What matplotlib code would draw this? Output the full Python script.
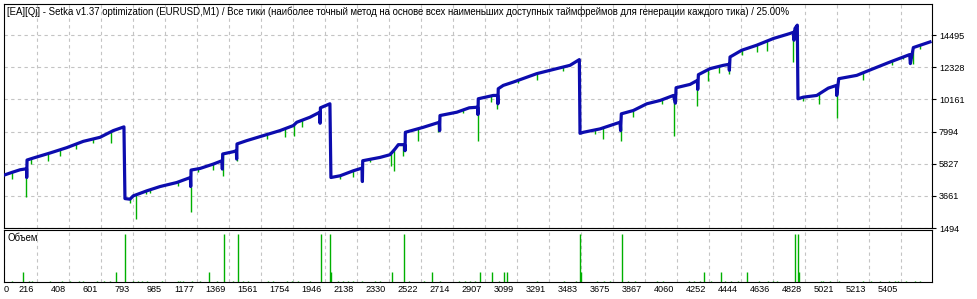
import numpy as np
import matplotlib
matplotlib.use("Agg")
import matplotlib.pyplot as plt
import matplotlib.transforms as mtransforms

plt.rcParams['font.family'] = ['Liberation Sans', 'DejaVu Sans']

title = ("[EA][Qj] - Setka v1.37 optimization (EURUSD,M1) / Все тики (наиболее точный метод "
         "на основе всех наименьших доступных таймфреймов для генерации каждого тика) / 25.00%")

# balance curve (trade number, balance)
bal_x = [20, 66, 116, 155, 156, 158, 196, 296, 396, 496, 596, 676, 740, 746, 776, 796, 877, 957,
         1057, 1139, 1141, 1143, 1197, 1277, 1329, 1331, 1333, 1397, 1415, 1417, 1419, 1477, 1577,
         1677, 1757, 1778, 1857, 1916, 1918, 1920, 1977, 1983, 2038, 2118, 2170, 2172, 2174, 2278,
         2338, 2368, 2388, 2426, 2428, 2430, 2538, 2634, 2636, 2638, 2739, 2814, 2864, 2866, 2868,
         2958, 2984, 2986, 2988, 3018, 3078, 3219, 3339, 3419, 3475, 3479, 3499, 3599, 3719, 3723,
         3727, 3799, 3880, 3960, 4040, 4052, 4056, 4140, 4184, 4186, 4190, 4260, 4340, 4374, 4376,
         4380, 4450, 4540, 4640, 4740, 4762, 4764, 4770, 4784, 4788, 4820, 4901, 4970, 5019, 5021,
         5033, 5141, 5241, 5341, 5459, 5463, 5481, 5581]
bal_y = [5061, 5239, 5421, 5489, 4900, 6078, 6214, 6552, 6911, 7338, 7609, 8062, 8313, 3478, 3437,
         3661, 3999, 4290, 4561, 4900, 4290, 5401, 5509, 5807, 6031, 5469, 6485, 6640, 6708, 6145,
         7162, 7385, 7724, 8062, 8401, 8625, 8963, 9302, 8558, 9600, 9871, 4900, 5015, 5354, 5536,
         4629, 6031, 6254, 6437, 6823, 7114, 7114, 6708, 7948, 8286, 8625, 8062, 9078, 9302, 9600,
         9640, 9146, 10209, 10433, 10433, 9871, 10886, 11110, 11333, 11902, 12241, 12464, 12850,
         7879, 7948, 8177, 8625, 8062, 9193, 9417, 9870, 10094, 10433, 9911, 10954, 11178, 11448,
         10839, 11834, 12241, 12464, 12532, 12126, 13026, 13480, 13819, 14272, 14611, 14700, 14157,
         14950, 15173, 10209, 10317, 10433, 10927, 11110, 10433, 11564, 11787, 12241, 12688, 13189,
         12579, 13663, 14042]

# equity drawdown spikes (trade number, equity low)
spk_x = [66, 152, 180, 286, 356, 452, 556, 662, 776, 812, 871, 897, 1067, 1141, 1187, 1277, 1333,
         1417, 1597, 1707, 1761, 1808, 1913, 2038, 2114, 2168, 2218, 2342, 2362, 2414, 2508, 2628,
         2778, 2868, 2943, 2982, 3108, 3219, 3379, 3569, 3619, 3724, 3799, 3970, 4045, 4184, 4250,
         4316, 4376, 4450, 4540, 4600, 4760, 4820, 4916, 5021, 5177, 5291, 5351, 5417, 5477, 5521]
spk_low = [4792, 3613, 5807, 6031, 6322, 6823, 7229, 7229, 3166, 2123, 3776, 3884, 4338, 2597, 5239,
           5421, 5015, 6031, 7500, 7656, 7724, 8286, 8625, 4832, 4900, 4629, 5916, 5645, 5354, 6370,
           7338, 7948, 9234, 7338, 9979, 9532, 11266, 11448, 12078, 7839, 7473, 7385, 8963, 9870,
           7724, 9708, 11401, 11970, 11902, 13141, 13365, 13412, 12667, 10026, 9870, 8895, 11448,
           12579, 12464, 12918, 12579, 13595]

# volume panel
vol_x = [70, 136, 170, 190, 296, 366, 416, 470, 496, 576, 620, 656, 692, 746, 796, 826, 847, 877,
         967, 1067, 1077, 1096, 1147, 1197, 1251, 1297, 1343, 1397, 1427, 1453, 1487, 1607, 1637,
         1717, 1747, 1787, 1857, 1923, 1978, 1984, 2027, 2057, 2087, 2118, 2168, 2248, 2278, 2352,
         2424, 2453, 2541, 2593, 2641, 2751, 2791, 2818, 2851, 2879, 2950, 2994, 3025, 3041, 3220,
         3381, 3453, 3480, 3487, 3579, 3623, 3661, 3731, 3767, 3811, 3944, 3977, 4131, 4164, 4197,
         4224, 4264, 4326, 4352, 4385, 4429, 4484, 4551, 4606, 4639, 4661, 4770, 4787, 4794, 4926,
         4937, 4981, 5036, 5180, 5224, 5280, 5335, 5368, 5390, 5434, 5489, 5522]
vol_v = [2, 21, 2, 2, 2, 2, 2, 2, 2, 2, 2, 2, 21, 100, 2, 2, 2, 2,
         2, 2, 2, 2, 2, 2, 21, 2, 100, 2, 100, 2, 2, 2, 2,
         2, 2, 2, 2, 100, 100, 21, 2, 2, 2, 2, 2, 2, 2, 21,
         100, 2, 2, 21, 2, 2, 2, 2, 2, 21, 21, 2, 21, 21, 2,
         2, 2, 100, 21, 2, 2, 2, 100, 2, 2, 2, 2, 2, 2, 2,
         21, 2, 21, 2, 2, 2, 21, 2, 2, 2, 2, 100, 100, 21, 2,
         2, 2, 2, 2, 2, 2, 2, 2, 2, 2, 2, 2]

x_ticks = [216, 408, 601, 793, 985, 1177, 1369, 1561, 1754, 1946, 2138, 2330, 2522, 2714, 2907,
           3099, 3291, 3483, 3675, 3867, 4060, 4252, 4444, 4636, 4828, 5021, 5213, 5405]
y_ticks = [1494, 3661, 5827, 7994, 10161, 12328, 14495]

blue = '#0C0CAE'
green = '#00B000'
gridc = '#C4C4C4'
x_lo, x_hi = 19.6, 5593

fig = plt.figure(figsize=(9.77, 2.99), dpi=100)
ax = fig.add_axes([4/977, 1-228/299, 928/977, 224/299])
axv = fig.add_axes([4/977, 1-282/299, 928/977, 52/299])

ax.vlines(spk_x, spk_low, np.interp(spk_x, bal_x, bal_y), color=green, lw=1.0, zorder=2)
ax.plot(bal_x, bal_y, color=blue, lw=2.3, zorder=3)
ax.set_xlim(x_lo, x_hi)
ax.set_ylim(1494, 16600)
ax.set_xticks(x_ticks)
ax.set_yticks(y_ticks)
ax.yaxis.tick_right()
ax.tick_params(axis='x', length=0, labelbottom=False)
ax.tick_params(axis='y', direction='out', length=3, width=0.8, pad=2, labelsize=6.6)
ax.grid(True, color=gridc, linestyle=(0, (3, 3)), lw=0.8, zorder=0)
ax.text(3/928, 1-8/224, title, transform=ax.transAxes, fontsize=6.9, va='center', ha='left')

axv.vlines(vol_x, 0, vol_v, color=green, lw=1.0)
axv.set_xlim(x_lo, x_hi)
axv.set_ylim(0, 108)
axv.set_yticks([])
axv.set_xticks([x_lo] + x_ticks)
axv.set_xticklabels(['0'] + [str(t) for t in x_ticks])
axv.tick_params(axis='x', length=0, pad=2, labelsize=6.6)
axv.grid(True, axis='x', color=gridc, linestyle=(0, (3, 3)), lw=0.8, zorder=0)
axv.text(3/928, 1-8/52, 'Объем', transform=axv.transAxes, fontsize=6.9, va='center', ha='left')

offset = mtransforms.ScaledTranslation(-2/72, 0, fig.dpi_scale_trans)
labels = axv.get_xticklabels()
for i, lab in enumerate(labels):
    if i == 0:
        lab.set_ha('left')
    else:
        lab.set_ha('right')
        lab.set_transform(lab.get_transform() + offset)

for a in (ax, axv):
    for s in a.spines.values():
        s.set_linewidth(0.8)
        s.set_color('black')

fig.savefig('out.png', dpi=100, facecolor='white')
